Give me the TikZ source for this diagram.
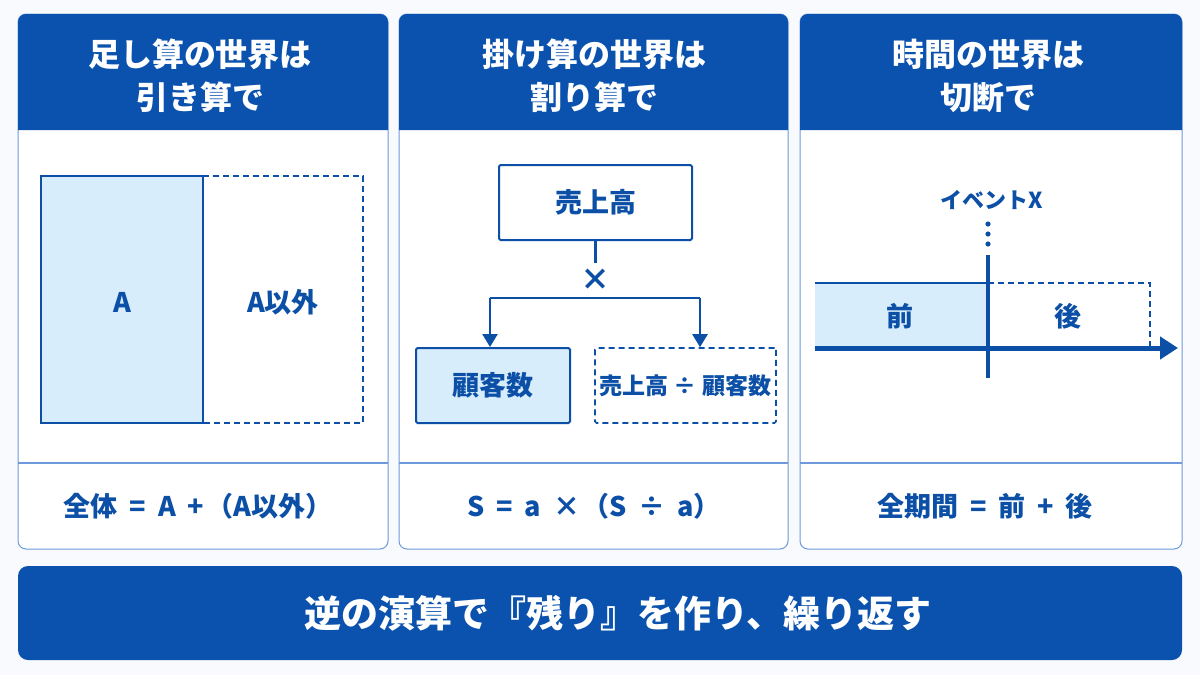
\documentclass[tikz,border=0pt]{standalone}
\usepackage{fontspec}
\setmainfont{Noto Sans CJK JP}
\usetikzlibrary{arrows.meta}
\definecolor{hdr}{HTML}{0A52AE}
\definecolor{ink}{HTML}{0B4FA6}
\definecolor{lite}{HTML}{D8EDFB}
\definecolor{pbord}{HTML}{6E9ADB}
\definecolor{bg}{HTML}{F8FAFD}
\newcommand{\gq}{\hspace{12pt}}
\tikzset{
  panel/.style={draw=pbord, line width=1pt, fill=white, rounded corners=8pt},
  hdrtxt/.style={text=white, font=\bfseries\fontsize{32}{43}\selectfont, align=center},
  lbl/.style={text=ink, font=\bfseries\fontsize{27}{30}\selectfont},
  frm/.style={text=ink, font=\bfseries\fontsize{27}{30}\selectfont},
  solidbox/.style={draw=ink, line width=2pt, rounded corners=1.5pt},
  dashbox/.style={draw=ink, line width=1.6pt, dash pattern=on 6pt off 4pt, rounded corners=1.5pt},
  conn/.style={draw=ink, line width=2.4pt},
  tip/.style={-{Triangle[length=13pt,width=15pt]}}
}
\begin{document}
\begin{tikzpicture}[x=1pt,y=-1pt]
\useasboundingbox (0,0) rectangle (1200,675);
\fill[bg] (0,0) rectangle (1200,675);

% panels
\foreach \xa/\xb in {18/388, 399/788, 800/1182}{
  \path[panel] (\xa,14) rectangle (\xb,549);
  \fill[hdr] (\xa,130) {[rounded corners=8pt] -- (\xa,14) -- (\xb,14)} -- (\xb,130) -- cycle;
  \draw[pbord, line width=1.2pt] (\xa,463) -- (\xb,463);
}

% headers
\node[hdrtxt] (h1) at (200,76) {足し算の世界は\\引き算で};
\node[hdrtxt] (h2) at (594,76) {掛け算の世界は\\割り算で};
\node[hdrtxt] (h3) at (988,76) {時間の世界は\\切断で};

% panel 1
\fill[lite] (41,176) rectangle (203,423);
\draw[dashbox, rounded corners=0pt] (203,176) -- (363,176) -- (363,423) -- (203,423);
\draw[solidbox, rounded corners=0pt] (41,176) rectangle (203,423);
\node[lbl] (a) at (122,302) {A};
\node[lbl] (na) at (283,302) {A以外};
\node[frm] (f1) at (198,506) {全体\gq=\gq A\gq+\hspace{2pt}（A以外）};

% panel 2
\node[solidbox, fill=white, minimum width=193pt, minimum height=75pt, lbl] (sales) at (595.5,202.5) {売上高};
\node[solidbox, fill=lite, minimum width=154pt, minimum height=75pt, lbl] (cust) at (493,385.5) {顧客数};
\node[dashbox, fill=white, minimum width=181pt, minimum height=75pt, lbl, font=\bfseries\fontsize{23}{28}\selectfont] (per) at (685.5,385.5) {売上高 ÷ 顧客数};
\node[text=ink, font=\bfseries\fontsize{30}{30}\selectfont, inner sep=0pt] (times) at (595,280) {×};
\coordinate (jl) at (490,298);
\coordinate (jr) at (700,298);
\draw[conn] (sales.south) -- ++(0,22);
\draw[conn] (jl) -- (jr);
\draw[conn, tip] (jl) -- (jl |- cust.north);
\draw[conn, tip] (jr) -- (jr |- per.north);
\node[frm] (f2) at (594,506) {S\gq=\gq a\gq×\hspace{2pt}（S\gq÷\gq a）};

% panel 3
\node[lbl, font=\bfseries\fontsize{22}{26}\selectfont] (ev) at (992,200) {イベントX};
\foreach \yy in {224,234,244} \fill[ink] (988,\yy) circle (2.6pt);
\fill[lite] (815,283) rectangle (988,348);
\draw[ink, line width=2pt] (815,283) -- (988,283);
\draw[dashbox, rounded corners=0pt] (988,283) -- (1150,283) -- (1150,348);
\coordinate (ax0) at (815,348);
\coordinate (ax1) at (1178,348);
\draw[ink, line width=5pt, -{Triangle[length=18pt,width=22pt]}] (ax0) -- (ax1);
\draw[ink, line width=3.5pt] (988,255) -- (988,378);
\node[lbl] (pre) at (900,316) {前};
\node[lbl] (post) at (1068,316) {後};
\node[frm] (f3) at (985,506) {全期間\gq=\gq 前\gq+\gq 後};

% banner
\fill[hdr, rounded corners=10pt] (18,566) rectangle (1182,660);
\node[text=white, font=\bfseries\fontsize{37}{42}\selectfont] (ban) at (618,613) {逆の演算で『残り』を作り、繰り返す};
\end{tikzpicture}
\end{document}
